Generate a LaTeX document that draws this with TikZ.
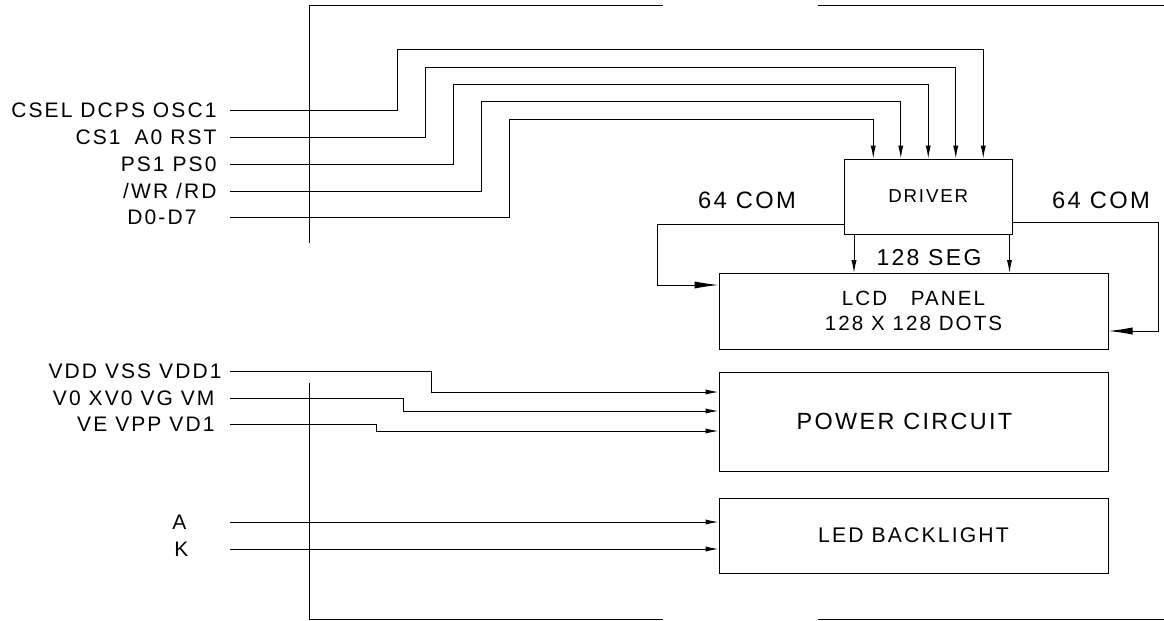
\documentclass[tikz,border=0pt]{standalone}
\usepackage{fontspec}
\setmainfont{Liberation Sans}[LetterSpace=10]
\usetikzlibrary{arrows.meta,positioning,calc}

\begin{document}
\begin{tikzpicture}[x=0.5pt, y=-0.5pt, line width=.5pt,
  every node/.style={font=\fontsize{10.5pt}{12.5pt}\selectfont, inner sep=0pt},
  blk/.style={draw, minimum width=194.5pt, align=center},
  sig/.style={-{Latex[length=6.5pt,width=2.6pt]}},
  com/.style={-{Latex[length=12pt,width=3.6pt]}},
  lbl/.style={anchor=east, inner xsep=6.5pt}]
\useasboundingbox (0,0) rectangle (1164,621);
% frame
\draw (309,243) -- (309,5.5) -- (663,5.5) (818,5.5) -- (1164,5.5);
\draw (309,383) -- (309,619.5) -- (663,619.5) (818,619.5) -- (1164,619.5);
% blocks
\node[draw, minimum width=83.75pt, minimum height=37.5pt, font=\fontsize{9.35pt}{11pt}\selectfont] (drv) at (928.25,196.5) {DRIVER};
\node[blk, minimum height=37.75pt, font=\fontsize{10.3pt}{12.5pt}\selectfont] (lcd) at (913.5,311.25) {LCD\hspace{8pt} PANEL\\128 X 128 DOTS};
\node[blk, minimum height=49.5pt, font=\fontsize{11.7pt}{13pt}\selectfont] (pwr) at (913.5,421.5) {POWER CIRCUIT\hspace*{9pt}};
\node[blk, minimum height=37.5pt, font=\fontsize{10.6pt}{12pt}\selectfont] (led) at (913.5,535.5) {LED BACKLIGHT};
% bus labels
\node[font=\fontsize{11.85pt}{14pt}\selectfont] (coml) at (747,200) {64 COM};
\node[font=\fontsize{11.85pt}{14pt}\selectfont] (comr) at (1101,200) {64 COM};
\node[font=\fontsize{11.5pt}{13pt}\selectfont] (seg) at (929,258) {128 SEG};
% interface signals
\node[lbl] (csel) at (230,110) {CSEL DCPS OSC1};
\node[lbl] (cs) at (230,137) {CS1\hspace{3pt} A0 RST};
\node[lbl] (ps) at (230,164) {PS1 PS0};
\node[lbl] (wr) at (230,191) {/WR /RD};
\node[lbl, inner xsep=16.5pt] (dat) at (230,217) {D0-D7};
\node[lbl, inner xsep=4pt] (vdd) at (230,371) {VDD VSS VDD1};
\node[lbl, inner xsep=7.5pt] (vx) at (230,398) {V0 XV0 VG VM};
\node[lbl, inner xsep=7.5pt] (ve) at (230,424) {VE VPP VD1};
\node[lbl, inner xsep=21.5pt] (la) at (230,522) {A};
\node[lbl, inner xsep=20.5pt] (lk) at (230,549) {K};
% connections
\foreach \s/\tx/\ty/\dx in {csel/397/49/27.5, cs/425/67/13.75, ps/453/84/0, wr/481/101/-13.75, dat/509/119/-27.5}{\draw[sig] (\s.east) -| (\tx,\ty) -| ([xshift=\dx pt]drv.north);}
\draw[com] ([yshift=5pt]drv.south west) -| (657,285) -- (lcd.west |- 0,285);
\draw[com] ([yshift=6pt]drv.south east) -| (1158,331) -- (lcd.east |- 0,331);
\draw[sig] ([xshift=5pt]drv.south west) -- ([xshift=5pt]drv.south west |- lcd.north);
\draw[sig] ([xshift=-1.5pt]drv.south east) -- ([xshift=-1.5pt]drv.south east |- lcd.north);
\draw[sig] (vdd.east) -| (431,392) -- (pwr.west |- 0,392);
\draw[sig] (vx.east) -| (403.5,411) -- (pwr.west |- 0,411);
\draw[sig] (ve.east) -| (376,431) -- (pwr.west |- 0,431);
\draw[sig] (la.east) -- (led.west |- la.east);
\draw[sig] (lk.east) -- (led.west |- lk.east);
\end{tikzpicture}
\end{document}
